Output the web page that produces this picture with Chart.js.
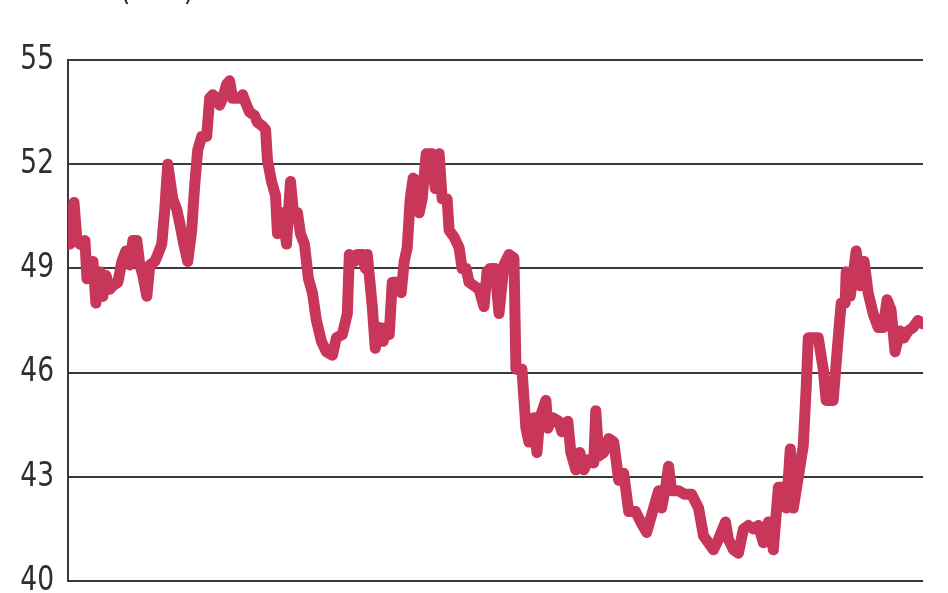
<!DOCTYPE html>
<html>
<head>
<meta charset="utf-8">
<script src="https://cdn.jsdelivr.net/npm/chart.js@4.4.1/dist/chart.umd.min.js"></script>
<style>
  html, body { margin: 0; padding: 0; background: #ffffff; }
  #wrap { width: 948px; height: 593px; position: relative; }
</style>
</head>
<body>
<div id="wrap"><canvas id="c" width="948" height="593"></canvas></div>
<script>
// Week index since the start of the series
const weeks = [2,6,9,12,17,19,25,27,28,32,35,38,42,45,50,54,58,62,65,69,72,75,79,82,87,90,94,97,100,105,109,112,116,120,124,127,130,134,139,142,145,149,152,155,159,162,165,169,172,175,179,182,187,190,195,198,200,204,208,210,215,219,223,226,230,233,237,241,245,249,254,259,265,269,275,280,282,287,290,295,298,300,305,308,312,316,319,322,325,330,334,337,340,343,346,350,352,355,359,365,368,372,375,380,382,387,392,395,399,402,407,412,417,420,423,428,432,437,442,447,449,455,459,462,467,470,473,479,481,486,492,495,501,504,509,513,517,522,527,529,532,537,542,547,552,557,562,569,574,580,587,592,595,599,602,605,612,618,625,632,637,642,647,652,659,662,667,672,677,682,687,692,697,702,707,712,717,720,724,727,732,737,740,742,747,752,757,760,767,772,775,779,780,784,787,790,794,798,802,807,812,817,821,825,829,834,838,842,847,852,857];
// Series values (%)
const values = [49.7,50.9,49.8,49.7,49.8,48.7,49.2,48.4,48.0,48.9,48.2,48.8,48.4,48.5,48.6,49.2,49.5,49.1,49.8,49.8,49.1,48.8,48.2,49.1,49.2,49.4,49.7,50.7,52.0,51.0,50.7,50.3,49.7,49.2,50.1,51.4,52.4,52.8,52.8,53.9,54.0,53.9,53.7,53.9,54.3,54.4,53.9,53.9,53.9,54.0,53.7,53.5,53.4,53.2,53.1,53.0,52.1,51.5,51.1,50.0,50.6,49.7,51.5,50.6,50.6,50.0,49.7,48.7,48.3,47.5,46.9,46.6,46.5,47.0,47.1,47.7,49.4,49.2,49.4,49.4,49.0,49.4,47.9,46.7,47.3,46.9,47.3,47.1,48.6,48.6,48.3,49.2,49.6,51.0,51.6,51.5,50.6,51.0,52.3,52.3,51.3,52.3,51.0,51.0,50.1,49.9,49.6,49.0,49.0,48.6,48.5,48.4,47.9,48.9,49.0,49.0,47.7,49.1,49.4,49.3,46.1,46.1,44.4,44.0,44.7,43.7,44.7,45.2,44.4,44.7,44.6,44.3,44.6,43.7,43.2,43.7,43.2,43.5,43.4,44.9,43.6,43.7,44.1,44.0,42.9,43.1,42.0,42.0,41.7,41.4,42.1,42.6,42.1,42.7,43.3,42.6,42.6,42.5,42.5,42.1,41.3,41.1,40.9,41.2,41.7,41.2,40.9,40.8,41.5,41.6,41.5,41.6,41.1,41.7,40.9,42.7,42.7,42.1,43.8,42.1,43.0,43.9,45.6,47.0,47.0,47.0,46.1,45.2,45.2,47.0,48.0,48.0,48.9,48.2,48.8,49.5,48.5,49.2,48.3,47.7,47.3,47.3,48.1,47.8,46.6,47.2,47.0,47.2,47.3,47.5,47.4];
const yTicks = [40, 43, 46, 49, 52, 55];
const unitLabel = "(%)";

const points = weeks.map((w, i) => ({ x: w, y: values[i] }));

const FONT = '34px "DejaVu Sans", sans-serif';
const NARROW = 0.78;

// Draws the y tick labels and the unit label in a narrowed (condensed) face
const textPlugin = {
  id: 'narrowText',
  afterDraw(chart) {
    const ctx = chart.ctx;
    const y = chart.scales.y;
    ctx.save();
    ctx.font = FONT;
    ctx.fillStyle = '#2e2e2e';
    ctx.textAlign = 'right';
    ctx.textBaseline = 'middle';
    y.ticks.forEach(t => {
      const py = y.getPixelForValue(t.value);
      ctx.save();
      ctx.translate(y.right - 14, py);
      ctx.scale(NARROW, 1);
      ctx.fillText(String(t.value), 0, 0);
      ctx.restore();
    });
    ctx.textAlign = 'left';
    ctx.textBaseline = 'alphabetic';
    ctx.save();
    ctx.translate(120, 0);
    ctx.scale(NARROW, 1);
    try { ctx.letterSpacing = '18px'; } catch (e) {}
    ctx.fillText(unitLabel, 0, 0);
    ctx.restore();
    ctx.restore();
  }
};

new Chart(document.getElementById('c'), {
  type: 'line',
  data: {
    datasets: [{
      data: points,
      borderColor: '#C8375A',
      borderWidth: 11,
      pointRadius: 0,
      tension: 0,
      borderJoinStyle: 'round',
      borderCapStyle: 'round',
      fill: false
    }]
  },
  options: {
    responsive: false,
    animation: false,
    devicePixelRatio: 1,
    layout: { padding: { top: 60, right: 25, bottom: 12, left: 0 } },
    plugins: { legend: { display: false }, tooltip: { enabled: false }, title: { display: false } },
    scales: {
      x: {
        type: 'linear',
        min: 0,
        max: 857,
        display: false
      },
      y: {
        min: 40,
        max: 55,
        afterBuildTicks(scale) { scale.ticks = yTicks.map(v => ({ value: v })); },
        afterFit(scale) { scale.width = 68; },
        border: { display: true, color: '#3a3a3a', width: 2 },
        grid: { color: '#3a3a3a', lineWidth: 2, drawTicks: false },
        ticks: { display: false }
      }
    }
  },
  plugins: [textPlugin]
});
</script>
</body>
</html>
